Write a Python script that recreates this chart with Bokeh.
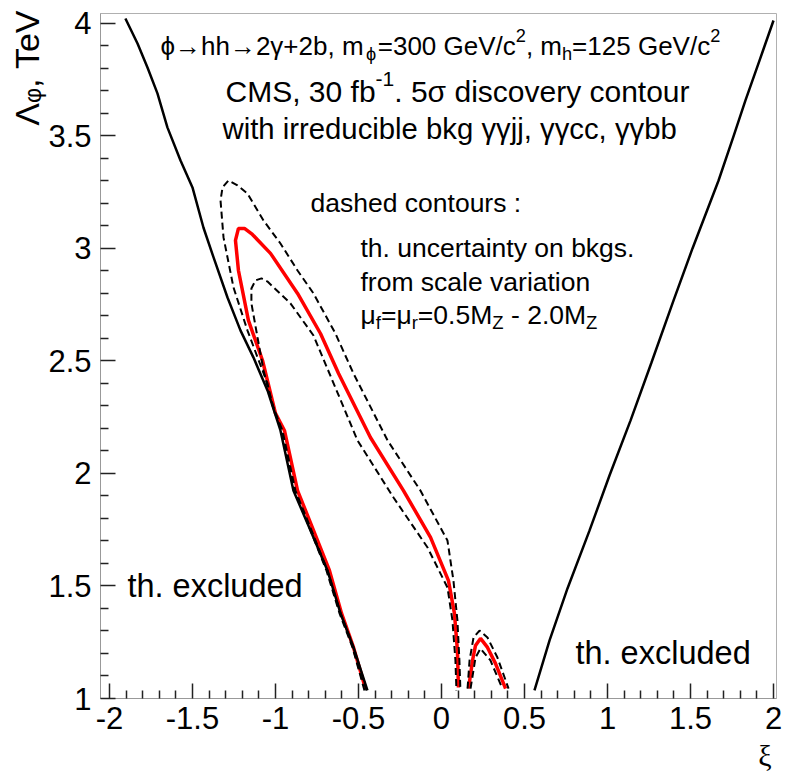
import math
from bokeh.plotting import figure
from bokeh.models import Range1d, FixedTicker, Label, Title
from bokeh.embed import file_html
from bokeh.resources import INLINE

# ---------------- data ----------------
excl_left_x = [-1.904, -1.831, -1.771, -1.711, -1.651, -1.572, -1.500, -1.434, -1.373, -1.289,
               -1.211, -1.133, -1.048, -0.970, -0.892, -0.789, -0.687, -0.608, -0.530, -0.446]
excl_left_y = [4.022, 3.911, 3.804, 3.689, 3.538, 3.391, 3.271, 3.093, 2.960, 2.782,
               2.636, 2.516, 2.369, 2.191, 1.924, 1.747, 1.569, 1.378, 1.227, 1.036]

excl_right_x = [2.000, 1.916, 1.831, 1.759, 1.669, 1.512, 1.398, 1.265, 1.139, 1.012,
                0.892, 0.759, 0.651, 0.560]
excl_right_y = [4.013, 3.836, 3.658, 3.498, 3.302, 3.000, 2.769, 2.493, 2.236, 1.991,
                1.747, 1.489, 1.258, 1.036]

sig5_x = [-0.458, -0.530, -0.602, -0.675, -0.771, -0.867, -0.946, -1.000, -1.078, -1.163,
          -1.223, -1.241, -1.223, -1.187, -1.139, -1.030, -0.867, -0.729, -0.620, -0.428,
          -0.229, -0.066, 0.042, 0.078, 0.096, 0.102]
sig5_y = [1.044, 1.227, 1.378, 1.569, 1.747, 1.924, 2.191, 2.267, 2.502, 2.680,
          2.902, 3.036, 3.089, 3.089, 3.062, 2.978, 2.800, 2.622, 2.444, 2.160,
          1.924, 1.716, 1.524, 1.378, 1.213, 1.049]
sig5_arch_x = [0.163, 0.187, 0.205, 0.235, 0.277, 0.325, 0.386]
sig5_arch_y = [1.044, 1.169, 1.236, 1.267, 1.227, 1.156, 1.044]

dash_out_x = [-0.452, -0.530, -0.608, -0.687, -0.783, -0.880, -0.958, -1.018, -1.048, -1.108,
              -1.169, -1.253, -1.313, -1.331, -1.319, -1.283, -1.229, -1.169, -1.072, -0.970,
              -0.867, -0.771, -0.639, -0.530, -0.325, -0.127, 0.036, 0.072, 0.096,
              0.108, 0.114]
dash_out_y = [1.036, 1.227, 1.378, 1.569, 1.747, 1.924, 2.191, 2.302, 2.400, 2.516,
              2.636, 2.827, 3.049, 3.213, 3.271, 3.302, 3.280, 3.244, 3.124, 3.022,
              2.902, 2.800, 2.622, 2.444, 2.147, 1.924, 1.702, 1.524, 1.347,
              1.169, 1.036]
dash_out_arch_x = [0.157, 0.169, 0.193, 0.229, 0.277, 0.337, 0.404]
dash_out_arch_y = [1.044, 1.169, 1.271, 1.302, 1.271, 1.182, 1.044]

dash_in_x = [-0.464, -0.536, -0.614, -0.693, -0.789, -0.886, -0.964, -1.006, -1.042, -1.072,
             -1.108, -1.145, -1.145, -1.120, -1.084, -1.048, -0.910, -0.771, -0.657, -0.506,
             -0.289, -0.084, 0.036, 0.066, 0.084, 0.090]
dash_in_y = [1.036, 1.227, 1.378, 1.569, 1.747, 1.924, 2.191, 2.280, 2.369, 2.458,
             2.604, 2.756, 2.822, 2.858, 2.867, 2.853, 2.756, 2.613, 2.413, 2.147,
             1.893, 1.671, 1.493, 1.347, 1.169, 1.036]
dash_in_arch_x = [0.175, 0.205, 0.235, 0.295, 0.367]
dash_in_arch_y = [1.044, 1.182, 1.222, 1.169, 1.044]

x_ticks = [-2, -1.5, -1, -0.5, 0, 0.5, 1, 1.5, 2]
x_tick_labels = ["-2", "-1.5", "-1", "-0.5", "0", "0.5", "1", "1.5", "2"]
y_ticks = [1, 1.5, 2, 2.5, 3, 3.5, 4]
y_tick_labels = ["1", "1.5", "2", "2.5", "3", "3.5", "4"]
x_title = "ξ"
y_title = "Λᵩ, TeV"

# ---------------- figure ----------------
FONT = "Liberation Sans"
p = figure(width=785, height=781, x_range=Range1d(-2.054, 2.018), y_range=Range1d(1.0, 4.044),
           output_backend="svg", toolbar_location=None,
           min_border_left=100, min_border_right=9, min_border_top=13, min_border_bottom=83)
p.grid.visible = False
p.outline_line_color = "#b0b0b0"
p.background_fill_color = "white"
p.border_fill_color = "white"


def minor_between(ticks, n=5):
    out = []
    for a, b in zip(ticks[:-1], ticks[1:]):
        for k in range(1, n):
            out.append(a + (b - a) * k / n)
    return out


for ax, ticks, labels, standoff in ((p.xaxis[0], x_ticks, x_tick_labels, 8),
                                     (p.yaxis[0], y_ticks, y_tick_labels, 9)):
    ax.ticker = FixedTicker(ticks=ticks, minor_ticks=minor_between(ticks))
    ax.major_label_overrides = {t: l for t, l in zip(ticks, labels)}
    ax.major_tick_in = 15
    ax.major_tick_out = 0
    ax.minor_tick_in = 8
    ax.minor_tick_out = 0
    ax.major_tick_line_color = "#222222"
    ax.minor_tick_line_color = "#222222"
    ax.major_tick_line_width = 1.5
    ax.minor_tick_line_width = 1.5
    ax.axis_line_color = "#999999"
    ax.major_label_text_font = FONT
    ax.major_label_text_font_size = "31px"
    ax.major_label_text_color = "black"
    ax.major_label_standoff = standoff

# axis titles as side-panel titles (not clipped by the frame)
yt = Title(text=y_title, align="right", text_font=FONT, text_font_size="34px",
           text_font_style="normal", text_color="black", standoff=0, offset=-3)
p.add_layout(yt, "left")
xt = Title(text=x_title, align="right", text_font="Liberation Serif", text_font_size="30px",
           text_font_style="normal", text_color="black", standoff=11, offset=5)
p.add_layout(xt, "below")

# ---------------- curves ----------------
p.line(sig5_x, sig5_y, line_color="red", line_width=3.5)
p.line(sig5_arch_x, sig5_arch_y, line_color="red", line_width=3.5)
for xs, ys in ((dash_out_x, dash_out_y), (dash_out_arch_x, dash_out_arch_y),
               (dash_in_x, dash_in_y), (dash_in_arch_x, dash_in_arch_y)):
    p.line(xs, ys, line_color="black", line_width=2, line_dash="7 4")
p.line(excl_left_x, excl_left_y, line_color="black", line_width=2.5)
p.line(excl_right_x, excl_right_y, line_color="black", line_width=2.5)

# ---------------- rich text helper ----------------
_AW = {' ': 278, ',': 278, '-': 333, '.': 278, '/': 278, ':': 278, '=': 584, '+': 584,
       'A': 667, 'C': 722, 'G': 778, 'M': 833, 'S': 667, 'T': 611, 'V': 667, 'Z': 611,
       'a': 556, 'b': 556, 'c': 500, 'd': 556, 'e': 556, 'f': 278, 'g': 556, 'h': 556,
       'i': 222, 'j': 222, 'k': 500, 'l': 222, 'm': 833, 'n': 556, 'o': 556, 'p': 556,
       'r': 333, 's': 500, 't': 278, 'u': 556, 'v': 500, 'w': 722, 'x': 500, 'y': 500,
       'Λ': 667, 'γ': 500, 'σ': 617, 'μ': 577, 'ϕ': 650, '→': 1000}


def tw(s, size):
    return sum(_AW.get(c, 556) for c in s) * size / 1000.0


def rich(x, y, runs, size, font=FONT):
    off = 0.0
    for txt, mode in runs:
        s = size if mode == "n" else size * 0.7
        shift = 0.0 if mode == "n" else (-0.28 * size if mode == "sub" else 0.42 * size)
        lead = len(txt) - len(txt.lstrip())
        pos = off + tw(txt[:lead], s)
        lab = Label(x=x, y=y, x_offset=pos, y_offset=shift, text=txt.strip())
        lab.text_font = font
        lab.text_font_size = f"{s:.1f}px"
        lab.text_color = "black"
        lab.text_baseline = "alphabetic"
        lab.text_align = "left"
        p.add_layout(lab)
        off += tw(txt, s)


rich(-1.693, 3.898, [("ϕ→hh→2γ+2b, m", "n"), ("ϕ", "sub"), ("=300 GeV/c", "n"), ("2", "sup"),
                     (", m", "n"), ("h", "sub"), ("=125 GeV/c", "n"), ("2", "sup")], 26)
rich(-1.301, 3.698, [("CMS, 30 fb", "n"), ("-1", "sup"), (". 5σ discovery contour", "n")], 30)
rich(-1.319, 3.533, [("with irreducible bkg γγjj, γγcc, γγbb", "n")], 29.3)
rich(-0.789, 3.200, [("dashed contours :", "n")], 26.5)
rich(-0.488, 3.000, [("th. uncertainty on bkgs.", "n")], 26.5)
rich(-0.488, 2.849, [("from scale variation", "n")], 26.5)
rich(-0.488, 2.702, [("μ", "n"), ("f", "sub"), ("=μ", "n"), ("r", "sub"), ("=0.5M", "n"), ("Z", "sub"),
                     (" - 2.0M", "n"), ("Z", "sub")], 26.5)
rich(-1.892, 1.502, [("th. excluded", "n")], 32.5)
rich(0.807, 1.204, [("th. excluded", "n")], 32.5)

open("out.html", "w").write(file_html(p, INLINE))
